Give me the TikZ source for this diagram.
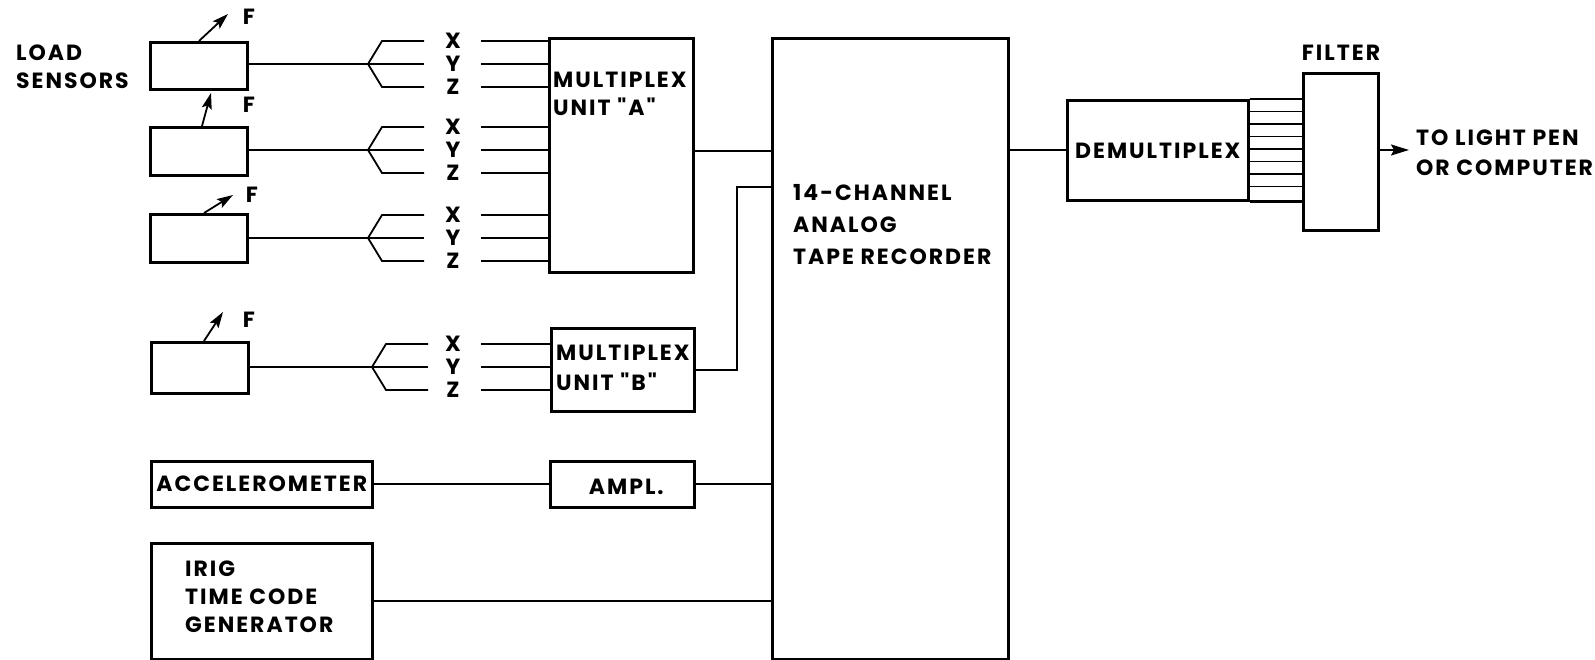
\documentclass[tikz,border=0pt]{standalone}
\usepackage{fontspec}
\setmainfont{Poppins}
\newfontfamily\lettering{Poppins}[LetterSpace=9]
\usetikzlibrary{arrows.meta,calc}
\begin{document}
\begin{tikzpicture}[x=1pt,y=-1pt,
  box/.style={draw,line width=2.6pt,inner sep=0pt,anchor=north west},
  wire/.style={line width=1.8pt},
  farrow/.style={wire,-{Stealth[length=16pt,width=10pt,inset=3pt]}},
  lbl/.style={font={\lettering\bfseries\fontsize{22}{28}\selectfont},inner sep=0pt,align=left},
  fan/.style={wire,line join=miter}]
\useasboundingbox (0,0) rectangle (1595,660);

% ---- load sensors ----
\node[lbl,anchor=west] (loadlbl) at (16,67) {LOAD\\SENSORS};
\node[box,minimum width=97pt,minimum height=47pt] (s1) at (149,41) {};
\node[box,minimum width=97pt,minimum height=48pt] (s2) at (149,126) {};
\node[box,minimum width=97pt,minimum height=48pt] (s3) at (149,213) {};
\node[box,minimum width=97pt,minimum height=51pt] (s4) at (150,341) {};

\draw[farrow] ($(s1.north west)+(50,0)$) -- ++(29,-27);
\draw[farrow] ($(s2.north west)+(53,0)$) -- ++(9,-33);
\draw[farrow] ($(s3.north west)+(55,0)$) -- ++(29,-18);
\draw[farrow] ($(s4.north west)+(54,0)$) -- ++(19,-29);
\node[lbl] (f1) at (249,17) {F};
\node[lbl] (f2) at (249,105) {F};
\node[lbl] (f3) at (252,195) {F};
\node[lbl] (f4) at (249,320) {F};

% ---- multiplex A ----
\node[box,minimum width=144pt,minimum height=234pt] (muxA) at (548,37) {};
\node[lbl,anchor=west] (muxAlbl) at (553,94) {MULTIPLEX\\UNIT "A"};
% ---- multiplex B ----
\node[box,minimum width=143pt,minimum height=83pt] (muxB) at (550,327) {};
\node[lbl,anchor=west,font={\lettering\bfseries\fontsize{22}{30}\selectfont}] (muxBlbl) at (556,368) {MULTIPLEX\\UNIT "B"};

% ---- fans and XYZ ----
\foreach \s/\yc/\fx/\tgt in {s1/64/368/muxA, s2/150/368/muxA, s3/238/368/muxA, s4/367/372/muxB}{
  \draw[wire] (\s.east |- 0,\yc) -- (\fx,\yc) coordinate (fp-\s);
  \draw[fan] (fp-\s) -- ++(14,-23) -- (\fx+56,\yc-23);
  \draw[fan] (fp-\s) -- (\fx+56,\yc);
  \draw[fan] (fp-\s) -- ++(14,23) -- (\fx+56,\yc+23);
  \node[lbl] (X-\s) at (453,\yc-23) {X};
  \node[lbl] (Y-\s) at (453,\yc) {Y};
  \node[lbl] (Z-\s) at (453,\yc+23) {Z};
  \draw[wire] ($(X-\s)+(28,0)$) -- (X-\s -| \tgt.west);
  \draw[wire] ($(Y-\s)+(28,0)$) -- (Y-\s -| \tgt.west);
  \draw[wire] ($(Z-\s)+(28,0)$) -- (Z-\s -| \tgt.west);
}

% ---- accelerometer, amplifier, IRIG ----
\node[box,minimum width=221pt,minimum height=46pt] (acc) at (150,460) {};
\node[lbl] (acclbl) at ($(acc.center)+(0,-1)$) {ACCELEROMETER};
\node[box,minimum width=144pt,minimum height=46pt] (ampl) at (549,460) {};
\node[lbl] (ampllbl) at ($(ampl.center)+(4,3)$) {AMPL.};
\node[box,minimum width=221pt,minimum height=116pt] (irig) at (150,542) {};
\node[lbl,anchor=west] (iriglbl) at (185,597) {IRIG\\TIME CODE\\GENERATOR};

% ---- tape recorder ----
\node[box,minimum width=236pt,minimum height=621pt] (rec) at (771,37) {};
\node[lbl,anchor=west,font={\lettering\bfseries\fontsize{22}{32}\selectfont}] (reclbl) at (793,225) {14-CHANNEL\\ANALOG\\TAPE RECORDER};

\coordinate (jB) at (737,187);
\draw[wire] (muxA.east |- s2.east) -- (rec.west |- s2.east);
\draw[wire] (muxB.east) -| (jB) -- (jB -| rec.west);
\draw[wire] (acc.east) -- (ampl.west);
\draw[wire] (ampl.east) -- (ampl.east -| rec.west);
\draw[wire] (irig.east) -- (irig.east -| rec.west);

% ---- demultiplex and filter ----
\node[box,minimum width=181pt,minimum height=100pt] (demux) at (1066,99) {};
\node[lbl] (demuxlbl) at ($(demux.center)+(0,1)$) {DEMULTIPLEX};
\node[box,minimum width=75pt,minimum height=157pt] (filt) at (1302,72) {};
\node[lbl] (filtlbl) at (1341,53) {FILTER};
\draw[wire] (rec.east |- demux.west) -- (demux.west);
\draw[line width=2.6pt] (demux.north east) -- (demux.north east -| filt.west);
\draw[line width=2.6pt] (demux.south east) -- (demux.south east -| filt.west);
\foreach \k in {1,...,7}{
  \path (demux.north east) ++(0,12.5*\k) coordinate (dl\k);
  \draw[wire] (dl\k) -- (dl\k -| filt.west);
}
\coordinate (outtip) at (1409,150);
\draw[wire,-{Stealth[length=18pt,width=11pt,inset=3pt]}] (filt.east |- outtip) -- (outtip);
\node[lbl,anchor=west,font={\lettering\bfseries\fontsize{22}{30}\selectfont}] (outlbl) at (1416,153) {TO LIGHT PEN\\OR COMPUTER};
\end{tikzpicture}
\end{document}
